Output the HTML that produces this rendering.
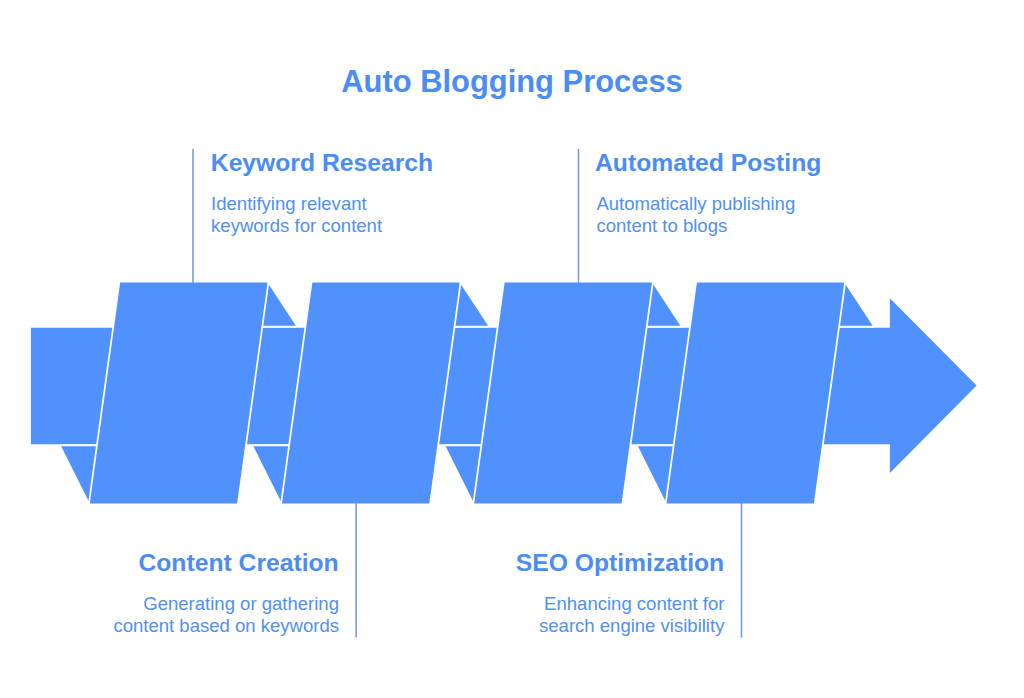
<!DOCTYPE html>
<html><head><meta charset="utf-8">
<style>
html,body{margin:0;padding:0;background:#fff;}
body{width:1024px;height:698px;position:relative;overflow:hidden;font-family:"Liberation Sans",sans-serif;}
svg{position:absolute;left:0;top:0;}
.t{position:absolute;white-space:nowrap;color:#4b8cf5;}
.title{font-size:30.9px;font-weight:bold;left:0;width:1024px;text-align:center;top:64.7px;line-height:34px;}
.h{font-size:24.7px;font-weight:bold;line-height:28px;}
.b{font-size:18.55px;line-height:22px;color:#5090f4;}
.r{text-align:right;}
</style></head><body>
<svg width="1024" height="698" viewBox="0 0 1024 698">
<path d="M30.9,327.85 H889.9 V298.2 L976.6,385.6 L889.9,473 V444.2 H30.9 Z" fill="#5091fe"/>
<path d="M267.50,282.5 L295.90,325.85 L261.54,325.85 Z" fill="#5091fe" stroke="#fff" stroke-width="3.5" paint-order="stroke" stroke-linejoin="round"/>
<path d="M89.80,503.6 L61.20,446.3 L97.68,446.3 Z" fill="#5091fe" stroke="#fff" stroke-width="3.5" paint-order="stroke" stroke-linejoin="round"/>
<path d="M120.20,282.5 L267.50,282.5 L237.10,503.6 L89.80,503.6 Z" fill="#5091fe" stroke="#fff" stroke-width="3.5" paint-order="stroke" stroke-linejoin="miter"/>
<path d="M459.70,282.5 L488.10,325.85 L453.74,325.85 Z" fill="#5091fe" stroke="#fff" stroke-width="3.5" paint-order="stroke" stroke-linejoin="round"/>
<path d="M282.00,503.6 L253.40,446.3 L289.88,446.3 Z" fill="#5091fe" stroke="#fff" stroke-width="3.5" paint-order="stroke" stroke-linejoin="round"/>
<path d="M312.40,282.5 L459.70,282.5 L429.30,503.6 L282.00,503.6 Z" fill="#5091fe" stroke="#fff" stroke-width="3.5" paint-order="stroke" stroke-linejoin="miter"/>
<path d="M651.95,282.5 L680.35,325.85 L645.99,325.85 Z" fill="#5091fe" stroke="#fff" stroke-width="3.5" paint-order="stroke" stroke-linejoin="round"/>
<path d="M474.25,503.6 L445.65,446.3 L482.13,446.3 Z" fill="#5091fe" stroke="#fff" stroke-width="3.5" paint-order="stroke" stroke-linejoin="round"/>
<path d="M504.65,282.5 L651.95,282.5 L621.55,503.6 L474.25,503.6 Z" fill="#5091fe" stroke="#fff" stroke-width="3.5" paint-order="stroke" stroke-linejoin="miter"/>
<path d="M844.25,282.5 L872.65,325.85 L838.29,325.85 Z" fill="#5091fe" stroke="#fff" stroke-width="3.5" paint-order="stroke" stroke-linejoin="round"/>
<path d="M666.55,503.6 L637.95,446.3 L674.43,446.3 Z" fill="#5091fe" stroke="#fff" stroke-width="3.5" paint-order="stroke" stroke-linejoin="round"/>
<path d="M696.95,282.5 L844.25,282.5 L813.85,503.6 L666.55,503.6 Z" fill="#5091fe" stroke="#fff" stroke-width="3.5" paint-order="stroke" stroke-linejoin="miter"/>
<line x1="193.0" y1="148.9" x2="193.0" y2="283" stroke="#7096e0" stroke-width="1.5"/>
<line x1="578.5" y1="148.9" x2="578.5" y2="283" stroke="#7096e0" stroke-width="1.5"/>
<line x1="356.1" y1="503" x2="356.1" y2="637.6" stroke="#7096e0" stroke-width="1.5"/>
<line x1="741.5" y1="503" x2="741.5" y2="637.6" stroke="#7096e0" stroke-width="1.5"/>
</svg>
<div class="t title">Auto Blogging Process</div>
<div class="t h" style="left:210.8px;top:148.9px;">Keyword Research</div>
<div class="t b" style="left:211.1px;top:193.4px;">Identifying relevant<br>keywords for content</div>
<div class="t h" style="left:595px;top:148.9px;">Automated Posting</div>
<div class="t b" style="left:596.4px;top:193.4px;">Automatically publishing<br>content to blogs</div>
<div class="t h r" style="right:685.3px;top:549.3px;">Content Creation</div>
<div class="t b r" style="right:685px;top:593.4px;">Generating or gathering<br>content based on keywords</div>
<div class="t h r" style="right:299.8px;top:549.3px;">SEO Optimization</div>
<div class="t b r" style="right:299.6px;top:593.4px;">Enhancing content for<br>search engine visibility</div>
</body></html>
